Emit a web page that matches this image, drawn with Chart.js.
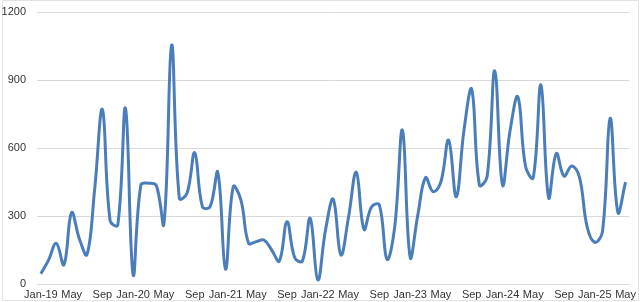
<!DOCTYPE html>
<html>
<head>
<meta charset="utf-8">
<script src="https://cdn.jsdelivr.net/npm/chart.js@4"></script>
<style>
  html, body { margin: 0; padding: 0; background: #fff; }
  #wrap { width: 640px; height: 302px; position: relative; }
</style>
</head>
<body>
<div id="wrap"><canvas id="lineChart" width="640" height="302"></canvas></div>
<script>
// monthly, Jan-19 .. May-25
const monthNames = ['Jan', 'Feb', 'Mar', 'Apr', 'May', 'Jun', 'Jul', 'Aug', 'Sep', 'Oct', 'Nov', 'Dec'];
const years = ['19', '20', '21', '22', '23', '24', '25'];
const categories = [];
years.forEach(yr => {
    monthNames.forEach(m => {
        if (categories.length < 77) categories.push(m === 'Jan' ? 'Jan-' + yr : m);
    });
});

const values = [
    45, 105, 180, 85, 315, 200, 130, 420, 770, 280, 260, 775,
    40, 437, 445, 435, 265, 1054, 378, 400, 579, 341, 341, 493,
    65, 429, 371, 180, 187, 194, 150, 101, 275, 116, 101, 290,
    18, 238, 374, 128, 297, 493, 241, 341, 349, 109, 253, 679,
    118, 305, 469, 407, 451, 635, 385, 679, 859, 437, 473, 941,
    437, 679, 826, 518, 469, 878, 381, 576, 476, 521, 473, 253,
    184, 231, 731, 316, 449
];

const yTicks = [0, 300, 600, 900, 1200];

// thin outer frame like the spreadsheet chart box
const frame = {
    id: 'frame',
    beforeDraw(chart) {
        const c = chart.ctx;
        c.save();
        c.strokeStyle = '#e3e3e3';
        c.lineWidth = 1;
        c.strokeRect(2.5, 0.5, chart.width - 4, chart.height - 2);
        c.restore();
    }
};

const ctx = document.getElementById('lineChart').getContext('2d');
new Chart(ctx, {
    type: 'line',
    data: {
        labels: categories,
        datasets: [{
            data: values,
            borderColor: '#4a7ebb',
            borderWidth: 3,
            pointRadius: 0,
            tension: 0.4,
            fill: false
        }]
    },
    plugins: [frame],
    options: {
        responsive: false,
        animation: false,
        layout: { padding: { top: 12, right: 8, left: 0, bottom: 0 } },
        plugins: { legend: { display: false }, tooltip: { enabled: false } },
        scales: {
            x: {
                offset: true,
                grid: { display: false, drawTicks: false },
                border: { display: true, color: '#d9d9d9', width: 1 },
                ticks: {
                    autoSkip: false,
                    maxRotation: 0,
                    padding: 4,
                    color: '#333333',
                    font: { family: 'Liberation Sans', size: 11 },
                    callback: function (val, i) { return i % 4 === 0 ? categories[i] : ''; }
                },
                afterFit: scale => { scale.height = 18; }
            },
            y: {
                min: 0,
                max: 1200,
                afterBuildTicks: scale => { scale.ticks = yTicks.map(v => ({ value: v })); },
                grid: { color: '#d9d9d9', drawTicks: false },
                border: { display: false },
                ticks: {
                    padding: 11,
                    color: '#333333',
                    font: { family: 'Liberation Sans', size: 11 },
                    callback: v => String(v)
                },
                afterFit: scale => {
                    scale.width = 37;
                    scale.paddingTop = 0;
                    scale.paddingBottom = 0;
                }
            }
        }
    }
});
</script>
</body>
</html>
